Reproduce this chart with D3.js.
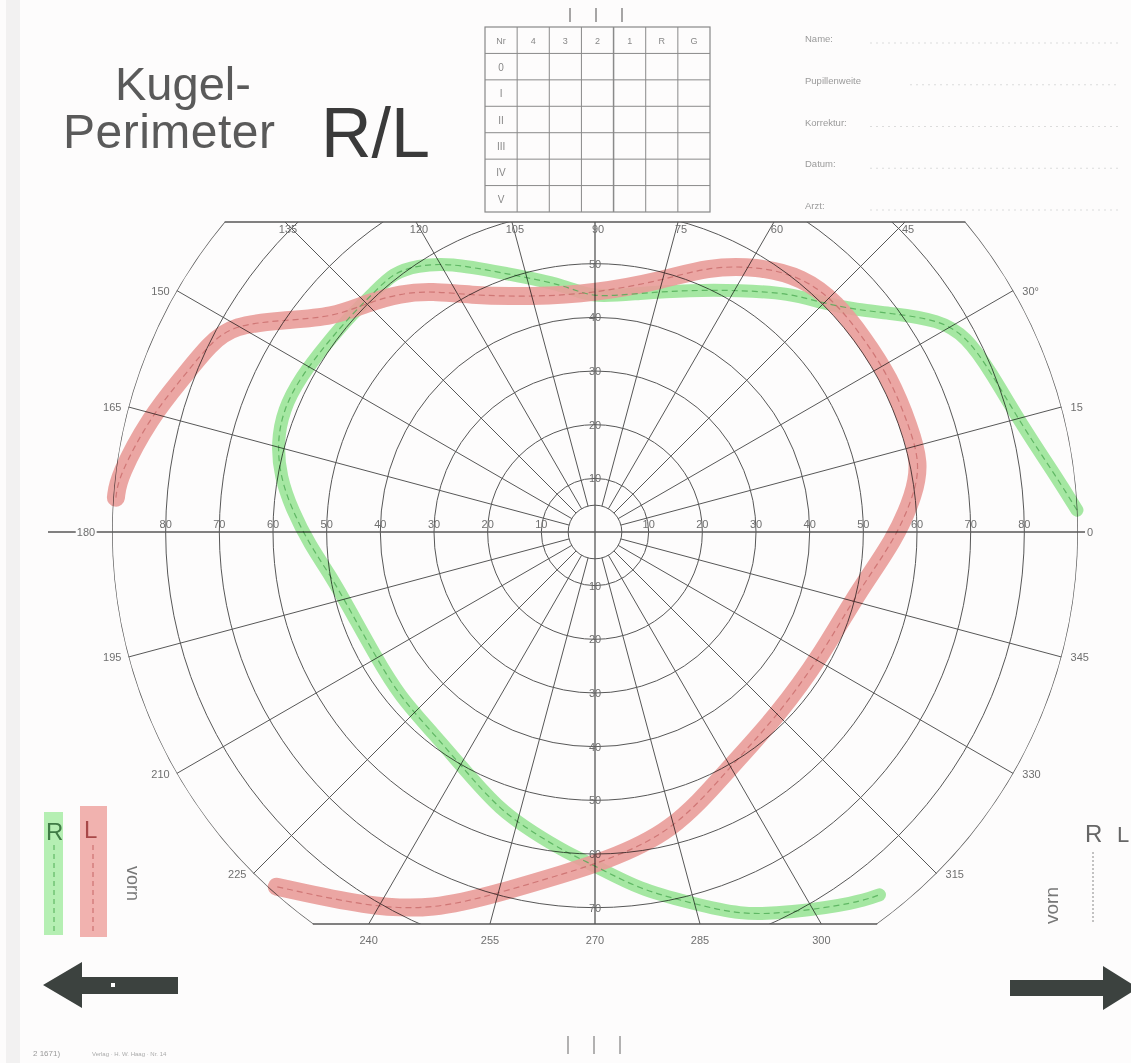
<!DOCTYPE html>
<html><head><meta charset="utf-8">
<script src="https://cdn.jsdelivr.net/npm/d3@7"></script>
<style>
body{margin:0;background:#fdfcfc}
svg{display:block}
text{font-family:"Liberation Sans",Arial,sans-serif}
</style>
</head><body>
<svg id="c" width="1131" height="1063"></svg>
<script>
// ---------- data ----------
const ringDegrees = [10, 20, 30, 40, 50, 60, 70, 80, 90];
const innerRing = 5;
const meridianAngles = d3.range(0, 360, 15);
const topChordLabels = [135, 120, 105, 90, 75, 60, 45];
const bottomChordLabels = [240, 255, 270, 285, 300];
const rimLabels = [0, 15, 30, 150, 165, 195, 210, 225, 315, 330, 345];
const hAxisLabels = [10, 20, 30, 40, 50, 60, 70, 80];
const vAxisTopLabels = [10, 20, 30, 40, 50];
const vAxisBottomLabels = [10, 20, 30, 40, 50, 60, 70];
const tableHeader = ["Nr", "4", "3", "2", "1", "R", "G"];
const tableRows = ["0", "I", "II", "III", "IV", "V"];
const infoFields = ["Name:", "Pupillenweite", "Korrektur:", "Datum:", "Arzt:"];

// left eye (red) isopter: meridian (deg) and eccentricity (deg)
const meridianL = [175.9, 173.4, 165.5, 159.4, 153.9, 150.2, 145.8, 140.6, 134.9, 129.2, 123.9, 118.4, 104.8, 90, 74.9, 67.1, 58.7, 50.8, 43.4, 36.0, 27.7, 18.4, 12.0, 6.9, -1.5, -13.1, -27.9, -45.5, -60.1, -75.5, -89.1, -94.7, -104.7, -113.2, -121.3, -131.9];
const eccL      = [89.5, 89.4, 85.6, 82.0, 79.9, 77.6, 70.2, 63.1, 60.2, 57.4, 54.1, 50.2, 45.3, 44.5, 48.6, 53.6, 58.0, 61.3, 62.0, 61.7, 62.0, 61.8, 61.9, 60.0, 55.9, 50.1, 48.1, 48.3, 50.5, 57.9, 61.6, 63.7, 69.5, 76.6, 81.7, 88.8];

// right eye (green) isopter
const meridianR = [2.6, 6.8, 13.8, 22.3, 27.7, 31.6, 36.6, 40.3, 45.1, 50.8, 59.1, 68.6, 79.3, 91.2, 96.5, 110.1, 118.3, 123.7, 127.9, 132.9, 137.9, 144.8, 152.3, 158.6, 164.4, 170.1, 175.8, 182.6, 189.2, 197.7, 209.2, 220.2, 231.1, 242.0, 251.1, 258.4, 265.0, 269.7, 277.2, 284.4, 290.7, 297.1, 305.2, 308.1];
const eccR      = [89.9, 86.6, 82.1, 79.5, 78.2, 75.4, 68.4, 64.0, 60.2, 57.4, 52.5, 48.4, 45.3, 43.6, 46.3, 51.5, 56.9, 59.7, 61.2, 60.7, 60.8, 61.1, 62.0, 62.4, 61.5, 59.5, 56.6, 53.2, 50.0, 47.9, 47.0, 47.6, 48.1, 50.8, 54.7, 57.2, 60.0, 62.0, 67.2, 71.3, 76.3, 79.7, 84.6, 85.9];

// ---------- drawing ----------
const W = 1131, H = 1063;
const svg = d3.select("#c");
const CX = 595, CY = 532, TOPY = 222, BOTY = 924;
const r = d3.scaleLinear().domain([0, 90]).range([0, 483]);
const rad = d3.scaleLinear().domain([0, 360]).range([0, 2 * Math.PI]);
const px = (a, e) => CX + r(e) * Math.cos(rad(a));
const py = (a, e) => CY - r(e) * Math.sin(rad(a));
const GRID = "#575757";
const LBL = "#6f6f6f";

// scanner edge
svg.append("rect").attr("x", 6).attr("y", 0).attr("width", 14).attr("height", H).attr("fill", "#ededed").attr("opacity", 0.7);

const defs = svg.append("defs");
defs.append("clipPath").attr("id", "field").append("circle").attr("cx", CX).attr("cy", CY).attr("r", r(90));
defs.append("clipPath").attr("id", "band").append("rect").attr("x", 0).attr("y", TOPY).attr("width", W).attr("height", BOTY - TOPY);

const grid = svg.append("g").attr("clip-path", "url(#band)").append("g").attr("clip-path", "url(#field)");
grid.selectAll("circle.ring").data([innerRing, ...ringDegrees]).join("circle")
  .attr("cx", CX).attr("cy", CY).attr("r", d => r(d))
  .attr("fill", "none").attr("stroke", GRID).attr("stroke-width", d => d === 90 ? 1.4 : 1);
grid.selectAll("line.sp").data(meridianAngles.filter(a => a % 90 !== 0)).join("line")
  .attr("x1", a => px(a, innerRing)).attr("y1", a => py(a, innerRing))
  .attr("x2", a => px(a, 91)).attr("y2", a => py(a, 91))
  .attr("stroke", GRID).attr("stroke-width", 1);

// chords
const dxTop = Math.sqrt(r(90) ** 2 - (CY - TOPY) ** 2);
const dxBot = Math.sqrt(r(90) ** 2 - (BOTY - CY) ** 2);
svg.append("line").attr("x1", CX - dxTop).attr("x2", CX + dxTop).attr("y1", TOPY).attr("y2", TOPY).attr("stroke", GRID).attr("stroke-width", 1.4);
svg.append("line").attr("x1", CX - dxBot).attr("x2", CX + dxBot).attr("y1", BOTY).attr("y2", BOTY).attr("stroke", GRID).attr("stroke-width", 1.4);
// axes
svg.append("line").attr("x1", 48).attr("x2", 1085).attr("y1", CY).attr("y2", CY).attr("stroke", GRID).attr("stroke-width", 1.3);
svg.append("line").attr("x1", CX).attr("x2", CX).attr("y1", TOPY).attr("y2", BOTY).attr("stroke", GRID).attr("stroke-width", 1.3);

const lab = svg.append("g").attr("fill", LBL).attr("font-size", 11);
lab.selectAll("text.tc").data(topChordLabels).join("text")
  .attr("x", a => CX + (CY - TOPY) / Math.tan(rad(a)) + 3).attr("y", TOPY + 11)
  .attr("text-anchor", "middle").text(d => d);
lab.selectAll("text.bc").data(bottomChordLabels).join("text")
  .attr("x", a => CX - (BOTY - CY) / Math.tan(rad(a))).attr("y", BOTY + 20)
  .attr("text-anchor", "middle").text(d => d);
lab.selectAll("text.rim").data(rimLabels).join("text")
  .attr("x", a => px(a, 90) + (Math.cos(rad(a)) > 0 ? 9 : -7))
  .attr("y", a => py(a, 90) + 4)
  .attr("text-anchor", a => Math.cos(rad(a)) > 0 ? "start" : "end")
  .text(a => a === 30 ? "30°" : a);
lab.append("text").attr("x", 86).attr("y", CY + 4).attr("text-anchor", "middle")
  .attr("stroke", "#fdfcfc").attr("stroke-width", 4).attr("paint-order", "stroke").text("180");
lab.selectAll("text.hl").data(hAxisLabels).join("text")
  .attr("x", d => CX - r(d)).attr("y", CY - 4).attr("text-anchor", "middle").text(d => d);
lab.selectAll("text.hr").data(hAxisLabels).join("text")
  .attr("x", d => CX + r(d)).attr("y", CY - 4).attr("text-anchor", "middle").text(d => d);
lab.selectAll("text.vt").data(vAxisTopLabels).join("text")
  .attr("x", CX).attr("y", d => CY - r(d) + 4).attr("text-anchor", "middle").text(d => d);
lab.selectAll("text.vb").data(vAxisBottomLabels).join("text")
  .attr("x", CX).attr("y", d => CY + r(d) + 4).attr("text-anchor", "middle").text(d => d);

// isopters
const line = d3.line().x(d => px(d.a, d.e)).y(d => py(d.a, d.e)).curve(d3.curveBasis);
const ptsL = meridianL.map((a, i) => ({ a, e: eccL[i] }));
const ptsR = meridianR.map((a, i) => ({ a, e: eccR[i] }));
const iso = svg.append("g").style("mix-blend-mode", "multiply");
iso.append("path").attr("d", line(ptsR)).attr("fill", "none").attr("stroke", "#9ce89a").attr("stroke-width", 13).attr("stroke-linecap", "round").attr("stroke-linejoin", "round").attr("opacity", 0.9);
iso.append("path").attr("d", line(ptsL)).attr("fill", "none").attr("stroke", "#eb9f9b").attr("stroke-width", 18).attr("stroke-linecap", "round").attr("stroke-linejoin", "round").attr("opacity", 0.9);
iso.append("path").attr("d", line(ptsR)).attr("fill", "none").attr("stroke", "#4fae55").attr("stroke-width", 1.2).attr("stroke-dasharray", "6,4").attr("opacity", 0.8);
iso.append("path").attr("d", line(ptsL)).attr("fill", "none").attr("stroke", "#c66464").attr("stroke-width", 1.2).attr("stroke-dasharray", "6,4").attr("opacity", 0.7);

// title
svg.append("text").attr("x", 115).attr("y", 100).attr("font-size", 47).attr("fill", "#5a5a5a").text("Kugel-");
svg.append("text").attr("x", 63).attr("y", 148).attr("font-size", 48).attr("fill", "#5a5a5a").attr("textLength", 212).text("Perimeter");
svg.append("text").attr("x", 321).attr("y", 157).attr("font-size", 70).attr("fill", "#3a3a3a").text("R/L");

// table
const colX = d3.scaleBand().domain(tableHeader).range([485, 710]);
const rowY = d3.scaleBand().domain(["hdr", ...tableRows]).range([27, 212]);
const tbl = svg.append("g");
tbl.append("rect").attr("x", 485).attr("y", 27).attr("width", 225).attr("height", 185).attr("fill", "none").attr("stroke", "#888").attr("stroke-width", 1.2);
tbl.selectAll("line.cv").data(tableHeader.slice(1)).join("line")
  .attr("x1", d => colX(d)).attr("x2", d => colX(d)).attr("y1", 27).attr("y2", 212)
  .attr("stroke", "#8a8a8a").attr("stroke-width", d => d === "1" ? 1.5 : 1);
tbl.selectAll("line.rh").data(tableRows).join("line")
  .attr("x1", 485).attr("x2", 710).attr("y1", d => rowY(d)).attr("y2", d => rowY(d))
  .attr("stroke", "#8a8a8a").attr("stroke-width", 1);
tbl.selectAll("text.th").data(tableHeader).join("text")
  .attr("x", d => colX(d) + colX.bandwidth() / 2).attr("y", rowY("hdr") + rowY.bandwidth() / 2 + 4)
  .attr("text-anchor", "middle").attr("font-size", 9).attr("fill", "#888").text(d => d);
tbl.selectAll("text.tr").data(tableRows).join("text")
  .attr("x", 485 + colX.bandwidth() / 2).attr("y", d => rowY(d) + rowY.bandwidth() / 2 + 4)
  .attr("text-anchor", "middle").attr("font-size", 10).attr("font-family", "Liberation Serif").attr("fill", "#888").text(d => d);
const tickX = [570, 596, 622];
svg.selectAll("line.tt").data(tickX).join("line").attr("x1", d => d).attr("x2", d => d).attr("y1", 8).attr("y2", 22).attr("stroke", "#888").attr("stroke-width", 1.5);
svg.selectAll("line.bt").data(tickX).join("line").attr("x1", d => d - 2).attr("x2", d => d - 2).attr("y1", 1036).attr("y2", 1054).attr("stroke", "#999").attr("stroke-width", 1.5);

// info fields
const infoY = d3.scalePoint().domain(infoFields).range([42, 209]);
svg.selectAll("text.inf").data(infoFields).join("text")
  .attr("x", 805).attr("y", d => infoY(d)).attr("font-size", 9.5).attr("fill", "#9a9a9a").text(d => d);
svg.selectAll("line.inf").data(infoFields).join("line")
  .attr("x1", d => d === "Pupillenweite" ? 910 : 870).attr("x2", 1120).attr("y1", d => infoY(d) + 1).attr("y2", d => infoY(d) + 1)
  .attr("stroke", "#dcdcdc").attr("stroke-dasharray", "2,4").attr("stroke-width", 1.2);

// legend left
svg.append("rect").attr("x", 44).attr("y", 812).attr("width", 19).attr("height", 123).attr("fill", "#a8eca6").attr("opacity", 0.85);
svg.append("rect").attr("x", 80).attr("y", 806).attr("width", 27).attr("height", 131).attr("fill", "#efaaa6").attr("opacity", 0.9);
svg.append("line").attr("x1", 54).attr("x2", 54).attr("y1", 845).attr("y2", 932).attr("stroke", "#4fae55").attr("stroke-dasharray", "5,4");
svg.append("line").attr("x1", 93).attr("x2", 93).attr("y1", 845).attr("y2", 932).attr("stroke", "#c66464").attr("stroke-dasharray", "5,4");
svg.append("text").attr("x", 46).attr("y", 840).attr("font-size", 24).attr("fill", "#3f7a45").text("R");
svg.append("text").attr("x", 84).attr("y", 838).attr("font-size", 24).attr("fill", "#a84848").text("L");
svg.append("text").attr("transform", "translate(127,866) rotate(90)").attr("font-size", 18).attr("fill", "#777").text("vorn");
// legend right
svg.append("text").attr("x", 1085).attr("y", 842).attr("font-size", 24).attr("fill", "#666").text("R");
svg.append("text").attr("x", 1117).attr("y", 842).attr("font-size", 22).attr("fill", "#666").text("L");
svg.append("line").attr("x1", 1093).attr("x2", 1093).attr("y1", 852).attr("y2", 922).attr("stroke", "#888").attr("stroke-dasharray", "2,2");
svg.append("text").attr("transform", "translate(1058,924) rotate(-90)").attr("font-size", 19).attr("fill", "#777").text("vorn");

// arrows
const arrowL = [[43, 985], [82, 962], [82, 977], [178, 977], [178, 994], [82, 994], [82, 1008]];
svg.append("path").attr("d", d3.line()(arrowL) + "Z").attr("fill", "#3c423f");
svg.append("rect").attr("x", 111).attr("y", 983).attr("width", 4).attr("height", 4).attr("fill", "#fff");
const arrowR = [[1010, 980], [1103, 980], [1103, 966], [1138, 988], [1103, 1010], [1103, 996], [1010, 996]];
svg.append("path").attr("d", d3.line()(arrowR) + "Z").attr("fill", "#3c423f");

// footer
svg.append("text").attr("x", 33).attr("y", 1056).attr("font-size", 8).attr("fill", "#999").text("2 1671)");
svg.append("text").attr("x", 92).attr("y", 1056).attr("font-size", 6).attr("fill", "#aaa").text("Verlag · H. W. Haag · Nr. 14");
</script>
</body></html>
